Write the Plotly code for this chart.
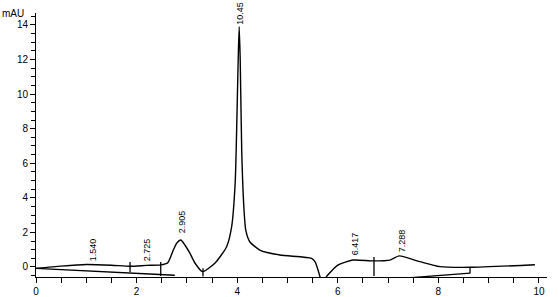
import plotly.graph_objects as go

# Chromatogram signal (time in min, mAU)
time = [0.00, 0.5, 1.0, 1.5, 1.87, 2.2, 2.48, 2.62, 2.73, 2.80, 2.88, 2.96, 3.06, 3.16, 3.31,
        3.56, 3.79, 3.89, 3.96, 3.99, 4.02, 4.04, 4.06, 4.09, 4.13, 4.17, 4.25, 4.45, 4.85,
        5.48, 5.55, 5.65, 5.70, 5.77, 6.01, 6.30, 6.70, 7.04, 7.22, 7.63, 8.03, 8.63, 9.92]
signal = [-0.08, 0.05, 0.14, 0.10, 0.04, 0.09, 0.12, 0.25, 0.98, 1.39, 1.56, 1.27, 0.80, 0.23, -0.27,
          0.23, 1.17, 2.33, 4.86, 8.0, 12.0, 13.9, 12.0, 6.76, 3.6, 2.14, 1.46, 0.98, 0.69,
          0.50, 0.30, -0.60, -1.2, -0.58, 0.12, 0.40, 0.35, 0.40, 0.64, 0.31, 0.02, -0.02, 0.13]

# Integration baselines
bl1_x = [0.0, 2.76]
bl1_y = [-0.08, -0.48]
bl2_x = [5.8, 8.63]
bl2_y = [-0.98, -0.36]

# Peak boundary markers: x, y_top, y_bottom
mark_x = [1.87, 2.48, 3.32, 6.72, 8.63]
mark_top = [0.29, 0.29, -0.08, 0.58, -0.02]
mark_bot = [-0.29, -0.52, -0.55, -0.52, -0.36]

# Peak labels
lab_text = ["1.540", "2.725", "2.905", "10.45", "6.417", "7.288"]
lab_x = [1.13, 2.20, 2.92, 4.04, 6.36, 7.27]
lab_y = [0.23, 0.23, 1.85, 13.88, 0.58, 0.75]

fig = go.Figure()
line = dict(color="black", width=1.3)
fig.add_trace(go.Scatter(x=time, y=signal, mode="lines", line=dict(color="black", width=1.4, shape="spline", smoothing=0.6)))
fig.add_trace(go.Scatter(x=bl1_x, y=bl1_y, mode="lines", line=line))
fig.add_trace(go.Scatter(x=bl2_x, y=bl2_y, mode="lines", line=line))
for mx, t, b in zip(mark_x, mark_top, mark_bot):
    fig.add_trace(go.Scatter(x=[mx, mx], y=[t, b], mode="lines", line=line))

for t, x, y in zip(lab_text, lab_x, lab_y):
    fig.add_annotation(x=x, y=y, text=t, showarrow=False, textangle=-90,
                       xanchor="center", yanchor="bottom",
                       font=dict(family="Liberation Sans", size=9, color="black"))

fig.add_annotation(xref="paper", yref="paper", x=0, y=1, text="mAU", showarrow=False,
                   xanchor="right", yanchor="middle", xshift=-10, yshift=0,
                   font=dict(family="Liberation Sans", size=10, color="black"))

fig.update_layout(
    width=558, height=297,
    margin=dict(l=36, r=11, t=13, b=20),
    paper_bgcolor="white", plot_bgcolor="white",
    showlegend=False,
    font=dict(family="Liberation Sans", size=10, color="black"),
)
fig.update_xaxes(range=[0, 10.16], showgrid=False, zeroline=False, showline=True, automargin=False,
                 linecolor="black", linewidth=1, ticks="outside", ticklen=5, tickcolor="black",
                 tickvals=[0, 2, 4, 6, 8, 10],
                 minor=dict(ticks="outside", ticklen=5, dtick=0.5, tickcolor="black", showgrid=False))
fig.update_yaxes(range=[-0.58, 14.69], showgrid=False, zeroline=False, showline=True, automargin=False,
                 linecolor="black", linewidth=1, ticks="outside", ticklen=5, tickcolor="black",
                 tickvals=[0, 2, 4, 6, 8, 10, 12, 14],
                 minor=dict(ticks="outside", ticklen=4, dtick=0.5, tickcolor="black", showgrid=False))

fig.write_html("out.html", config={"displayModeBar": False},
               post_script="document.body.style.margin='0';document.body.style.overflow='hidden';")
